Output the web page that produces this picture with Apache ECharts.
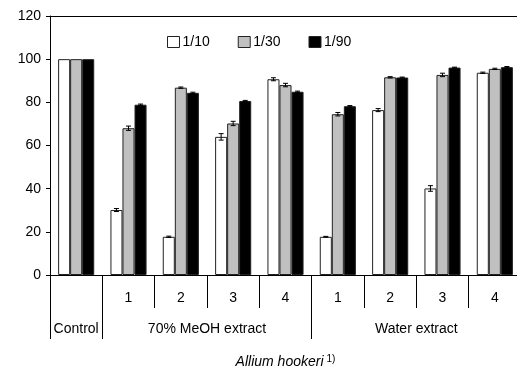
<!DOCTYPE html>
<html><head><meta charset="utf-8">
<script src="https://cdn.jsdelivr.net/npm/echarts@6/dist/echarts.min.js"></script>
<style>html,body{margin:0;padding:0;background:#fff}#c{width:517px;height:371px}</style>
</head><body><div id="c"></div>
<script>
const categories = ['Control','M1','M2','M3','M4','W1','W2','W3','W4'];
const tickLabels = ['', '1', '2', '3', '4', '1', '2', '3', '4'];
const groupLabels = ['Control', '70% MeOH extract', 'Water extract'];
const groupCenters = [0.5, 3, 7];
const groupBounds = [0, 1, 5];
const seriesNames = ['1/10', '1/30', '1/90'];
const v10 = [100, 30.1, 17.7, 64.0, 90.7, 17.7, 76.4, 40.1, 93.7];
const v30 = [100, 68.0, 86.8, 70.2, 88.0, 74.5, 91.6, 92.7, 95.5];
const v90 = [100, 78.9, 84.4, 80.6, 84.9, 78.2, 91.5, 96.1, 96.3];
const e10 = [0, 0.7, 0.3, 1.5, 0.7, 0.2, 0.7, 1.3, 0.3];
const e30 = [0, 1.0, 0.3, 1.0, 0.8, 0.8, 0.3, 0.8, 0.3];
const e90 = [0, 0.3, 0.3, 0.3, 0.3, 0.3, 0.2, 0.2, 0.3];

const values = [v10, v30, v90];
const errors = [e10, e30, e90];
const colors = ['#ffffff', '#c0c0c0', '#000000'];
const gapFrac = 0.31;
const font = 'Liberation Sans, Arial, sans-serif';

const chart = echarts.init(document.getElementById('c'));

const barSeries = values.map((vals, i) => ({
  type: 'bar', name: seriesNames[i], data: vals, xAxisIndex: 0,
  barGap: '0%', barCategoryGap: (gapFrac * 100) + '%',
  itemStyle: { color: colors[i], borderColor: '#222', borderWidth: 1 },
  z: 2
}));

const errSeries = values.map((vals, i) => ({
  type: 'custom', name: 'err' + i, xAxisIndex: 0,
  data: vals.map((v, k) => [k, v, errors[i][k]]),
  renderItem: function (params, api) {
    const k = api.value(0), v = api.value(1), e = api.value(2);
    if (!e) return;
    const band = api.size([1, 0])[0];
    const bw = band * (1 - gapFrac) / 3;
    const off = (i - 1) * bw;
    const top = api.coord([k, v + e]);
    const bot = api.coord([k, v - e]);
    const x = top[0] + off;
    const cap = 2.5;
    const st = { stroke: '#000', lineWidth: 1 };
    return { type: 'group', children: [
      { type: 'line', shape: { x1: x, y1: top[1], x2: x, y2: bot[1] }, style: st },
      { type: 'line', shape: { x1: x - cap, y1: top[1], x2: x + cap, y2: top[1] }, style: st },
      { type: 'line', shape: { x1: x - cap, y1: bot[1], x2: x + cap, y2: bot[1] }, style: st }
    ]};
  },
  z: 5, silent: true
}));

chart.setOption({
  animation: false,
  textStyle: { fontFamily: font, color: '#000' },
  legend: {
    data: seriesNames, left: 167, top: 35, padding: 0, itemWidth: 12, itemHeight: 11, itemGap: 28,
    icon: 'rect', textStyle: { fontSize: 14, fontFamily: font, color: '#000', padding: [0,0,0,-2] },
    itemStyle: { borderColor: '#222', borderWidth: 1 }
  },
  grid: { left: 50, top: 16, right: -4, bottom: 96, containLabel: false, outerBoundsMode: 'none' },
  xAxis: [
    { type: 'category', data: categories, position: 'bottom',
      axisLine: { show: true, lineStyle: { color: '#000', width: 1 } },
      axisTick: { show: true, length: 33, lineStyle: { color: '#000' } },
      axisLabel: { formatter: (val, idx) => tickLabels[idx], fontSize: 14, color: '#000', margin: 16, fontFamily: font }
    },
    { type: 'value', min: 0, max: categories.length, position: 'bottom', gridIndex: 0,
      axisLine: { show: false }, splitLine: { show: false },
      axisTick: { show: true, length: 64, customValues: groupBounds, lineStyle: { color: '#000' } },
      axisLabel: { customValues: groupCenters, fontSize: 14, color: '#000', margin: 47, fontFamily: font,
        formatter: (val) => groupLabels[groupCenters.indexOf(val)] || '' },
      name: '{it|Allium hookeri}{sup|1)}', nameLocation: 'middle', nameGap: 79,
      nameTextStyle: { rich: {
        it: { fontSize: 14, fontStyle: 'italic', fontFamily: font, color: '#000' },
        sup: { fontSize: 10, fontFamily: font, color: '#000', verticalAlign: 'top', padding: [0,0,6,3] }
      } }
    },
    { type: 'category', data: categories, position: 'top',
      axisLine: { show: true, lineStyle: { color: '#000', width: 1 } },
      axisTick: { show: false }, axisLabel: { show: false } }
  ],
  yAxis: {
    type: 'value', min: 0, max: 120, interval: 20,
    axisLine: { show: true, lineStyle: { color: '#000', width: 1 } },
    axisTick: { show: true, length: 4, lineStyle: { color: '#000' } },
    splitLine: { show: false },
    axisLabel: { fontSize: 14, color: '#000', margin: 9, fontFamily: font }
  },
  series: barSeries.concat(errSeries)
});
</script></body></html>
